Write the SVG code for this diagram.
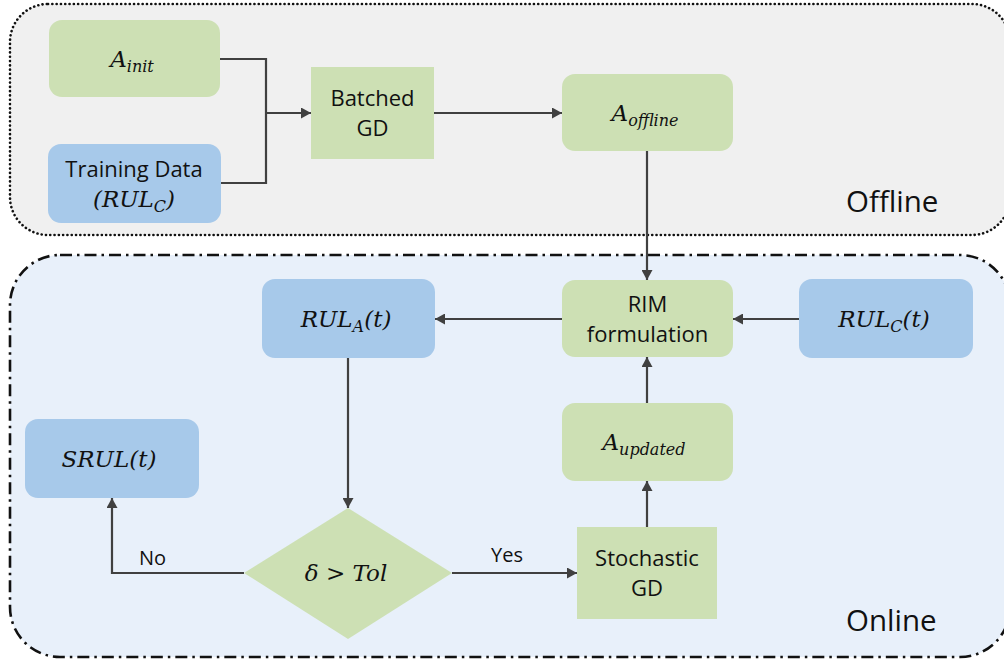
<svg xmlns="http://www.w3.org/2000/svg" width="1004" height="662" viewBox="0 0 1004 662">
<defs>
<style>
.green{fill:#cde0b4;}
.blue{fill:#a7c9ea;}
.lbl{font-family:"Open Sans","Liberation Sans",sans-serif;font-size:22px;fill:#111;text-anchor:middle;}
.big{font-family:"Open Sans","Liberation Sans",sans-serif;font-size:29.5px;fill:#111;}
.yn{font-family:"Open Sans","Liberation Sans",sans-serif;font-size:20px;fill:#111;}
.math{font-family:"DejaVu Serif","Liberation Serif",serif;font-style:italic;font-size:23px;fill:#111;text-anchor:middle;}
.sub{font-size:16px;}
.up{font-style:normal;}
.conn{fill:none;stroke:#404040;stroke-width:2.2;}
</style>
<marker id="arr" markerUnits="userSpaceOnUse" markerWidth="10" markerHeight="11" refX="10" refY="5.5" orient="auto">
<path d="M0,0 L10,5.5 L0,11 z" fill="#404040"/>
</marker>
</defs>

<g id="offline-region">
<rect x="10" y="4" width="1000" height="231" rx="38" fill="#f0f0f0" stroke="#111" stroke-width="2.6" stroke-dasharray="0.1 4.2" stroke-linecap="round"/>
<text class="big" x="846" y="212">Offline</text>
</g>
<g id="online-region">
<rect x="10" y="255" width="1000" height="402" rx="50" fill="#e8f0fa" stroke="#111" stroke-width="2.6" stroke-dasharray="12 5 2.5 5"/>
<text class="big" x="846" y="631">Online</text>
</g>

<g id="connectors">
<polyline class="conn" points="220,59 266,59 266,183 221,183"/>
<line class="conn" x1="266" y1="113" x2="311" y2="113" marker-end="url(#arr)"/>
<line class="conn" x1="434" y1="113" x2="562" y2="113" marker-end="url(#arr)"/>
<line class="conn" x1="647" y1="151" x2="647" y2="280" marker-end="url(#arr)"/>
<line class="conn" x1="562" y1="319" x2="435" y2="319" marker-end="url(#arr)"/>
<line class="conn" x1="799" y1="319" x2="733" y2="319" marker-end="url(#arr)"/>
<line class="conn" x1="647" y1="403" x2="647" y2="357" marker-end="url(#arr)"/>
<line class="conn" x1="647" y1="527" x2="647" y2="481" marker-end="url(#arr)"/>
<line class="conn" x1="348" y1="358" x2="348" y2="508" marker-end="url(#arr)"/>
<line class="conn" x1="452" y1="573" x2="577" y2="573" marker-end="url(#arr)"/>
<polyline class="conn" points="244,573 112,573 112,498" marker-end="url(#arr)"/>
<text class="yn" x="491" y="562">Yes</text>
<text class="yn" x="139" y="565">No</text>
</g>

<g id="a-init">
<rect class="green" x="49" y="20" width="171" height="77" rx="13"/>
<text class="math" x="132" y="67">A<tspan class="sub" dy="5">init</tspan></text>
</g>
<g id="training-data">
<rect class="blue" x="48" y="144" width="173" height="79" rx="13"/>
<text class="lbl" x="134" y="177">Training Data</text>
<text class="math" x="134" y="207">(RUL<tspan class="sub" dy="5">C</tspan><tspan dy="-5">)</tspan></text>
</g>
<g id="batched-gd">
<rect class="green" x="311" y="67" width="123" height="92"/>
<text class="lbl" x="372.5" y="106">Batched</text>
<text class="lbl" x="372.5" y="136">GD</text>
</g>
<g id="a-offline">
<rect class="green" x="562" y="74" width="171" height="77" rx="13"/>
<text class="math" x="645" y="121">A<tspan class="sub" dy="5">offline</tspan></text>
</g>
<g id="rim-formulation">
<rect class="green" x="562" y="280" width="171" height="77" rx="13"/>
<text class="lbl" x="647.5" y="312">RIM</text>
<text class="lbl" x="647.5" y="342">formulation</text>
</g>
<g id="rul-c">
<rect class="blue" x="799" y="279" width="174" height="79" rx="13"/>
<text class="math" x="884" y="327">RUL<tspan class="sub" dy="5">C</tspan><tspan dy="-5">(t)</tspan></text>
</g>
<g id="rul-a">
<rect class="blue" x="262" y="279" width="173" height="79" rx="13"/>
<text class="math" x="346" y="327">RUL<tspan class="sub" dy="5">A</tspan><tspan dy="-5">(t)</tspan></text>
</g>
<g id="a-updated">
<rect class="green" x="562" y="403" width="171" height="78" rx="13"/>
<text class="math" x="644" y="450">A<tspan class="sub" dy="5">updated</tspan></text>
</g>
<g id="stochastic-gd">
<rect class="green" x="577" y="527" width="140" height="92"/>
<text class="lbl" x="647" y="566">Stochastic</text>
<text class="lbl" x="647" y="596">GD</text>
</g>
<g id="srul">
<rect class="blue" x="25" y="419" width="174" height="79" rx="13"/>
<text class="math" x="109" y="467">SRUL(t)</text>
</g>
<g id="decision">
<polygon class="green" points="348,508 452,573 348,639 244,573"/>
<text class="math" x="346" y="581">δ <tspan class="up">&gt;</tspan> Tol</text>
</g>
</svg>
